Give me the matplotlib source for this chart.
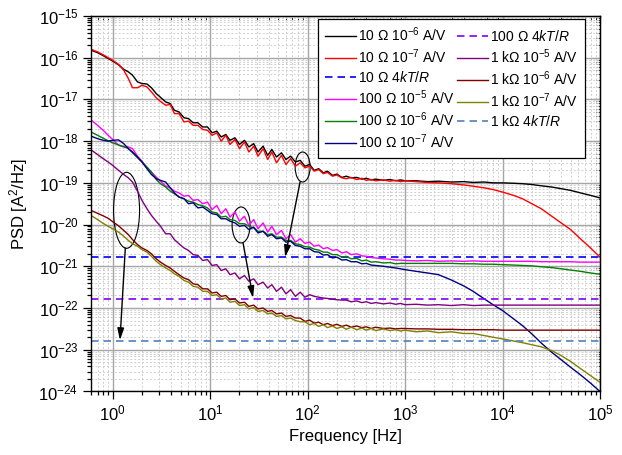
import matplotlib
matplotlib.use('Agg')
import matplotlib.pyplot as plt
import numpy as np
from matplotlib.patches import Ellipse
from matplotlib.transforms import ScaledTranslation
from matplotlib.ticker import LogLocator, NullFormatter

plt.rcParams['font.family'] = ['Liberation Sans', 'DejaVu Sans']
plt.rcParams['mathtext.fontset'] = 'custom'
plt.rcParams['mathtext.rm'] = 'Liberation Sans'
plt.rcParams['mathtext.it'] = 'Liberation Sans:italic'

# frequency grid [Hz] shared by all measured curves
freq = [0.6, 0.7, 0.8, 0.9, 1.0, 1.15, 1.3, 1.45, 1.6, 1.8, 2.0, 2.25, 2.5, 2.8,
        3.1, 3.5, 3.9, 4.3, 4.8, 5.4, 6.0, 6.7, 7.5, 8.4,
        9.4, 10.5, 11.7, 13, 14.5, 16, 18, 20, 22.5, 25,
        28, 31, 35, 39, 43, 48, 54, 60, 67, 75,
        84, 94, 105, 117, 130, 145, 160, 180, 200, 225,
        250, 280, 320, 360, 400, 450, 500, 600, 700, 800,
        900, 1000, 1300, 1700, 2200, 3000, 4000, 5000, 6500, 8000,
        1e4, 1.3e4, 1.6e4, 2e4, 2.5e4, 3.2e4, 4e4, 5e4, 6.3e4, 8e4,
        1e5]

# log10 of PSD [A^2/Hz]
r10_g6 = [-15.82, -15.88, -15.95, -16.02, -16.08, -16.17, -16.28, -16.34, -16.42, -16.58, -16.62, -16.63, -16.72, -16.86,
          -16.95, -17.06, -17.10, -17.26, -17.30, -17.44, -17.46, -17.56, -17.56, -17.66,
          -17.66, -17.80, -17.76, -17.90, -17.84, -17.98, -17.92, -18.08, -17.98, -18.14,
          -18.06, -18.26, -18.12, -18.34, -18.20, -18.38, -18.28, -18.44, -18.36, -18.50,
          -18.46, -18.60, -18.56, -18.70, -18.66, -18.76, -18.72, -18.82, -18.79, -18.87,
          -18.84, -18.88, -18.87, -18.91, -18.89, -18.93, -18.91, -18.94, -18.92, -18.95,
          -18.93, -18.95, -18.95, -18.97, -18.96, -18.98, -18.97, -18.99, -18.98, -19.00,
          -19.00, -19.01, -19.02, -19.04, -19.07, -19.10, -19.14, -19.18, -19.24, -19.30,
          -19.36]
r10_g7 = [-15.80, -15.86, -15.93, -16.00, -16.06, -16.16, -16.30, -16.50, -16.72, -16.72, -16.66, -16.70, -16.82, -16.96,
          -17.05, -17.14, -17.12, -17.34, -17.34, -17.54, -17.52, -17.62, -17.62, -17.72,
          -17.74, -17.86, -17.80, -18.00, -17.86, -18.08, -17.96, -18.18, -18.02, -18.26,
          -18.12, -18.36, -18.18, -18.44, -18.26, -18.52, -18.34, -18.56, -18.42, -18.60,
          -18.52, -18.64, -18.60, -18.72, -18.68, -18.78, -18.75, -18.84, -18.81, -18.88,
          -18.90, -18.87, -18.92, -18.89, -18.94, -18.92, -18.95, -18.93, -18.96, -18.94,
          -18.97, -18.95, -18.97, -18.99, -19.00, -19.02, -19.05, -19.08, -19.12, -19.16,
          -19.22, -19.30, -19.38, -19.50, -19.62, -19.80, -19.96, -20.12, -20.34, -20.56,
          -20.78]
r100_g5 = [-17.49, -17.62, -17.74, -17.86, -17.96, -18.10, -18.14, -18.14, -18.18, -18.36, -18.48, -18.64, -18.74, -18.86,
           -18.96, -19.08, -19.12, -19.20, -19.24, -19.32, -19.30, -19.42, -19.40, -19.50,
           -19.46, -19.64, -19.54, -19.74, -19.62, -19.82, -19.70, -19.92, -19.80, -20.02,
           -19.88, -20.10, -19.96, -20.18, -20.04, -20.24, -20.14, -20.34, -20.24, -20.42,
           -20.34, -20.45, -20.42, -20.52, -20.49, -20.58, -20.55, -20.62, -20.60, -20.68,
           -20.65, -20.72, -20.70, -20.75, -20.76, -20.79, -20.80, -20.82, -20.83, -20.85,
           -20.85, -20.86, -20.87, -20.86, -20.88, -20.87, -20.88, -20.87, -20.88, -20.88,
           -20.88, -20.88, -20.88, -20.88, -20.89, -20.89, -20.89, -20.89, -20.90, -20.90,
           -20.90]
r100_g6 = [-17.78, -17.86, -17.93, -17.99, -18.04, -18.09, -18.13, -18.18, -18.28, -18.40, -18.50, -18.62, -18.74, -18.92,
           -19.02, -19.10, -19.20, -19.26, -19.34, -19.38, -19.44, -19.46, -19.52, -19.55,
           -19.60, -19.70, -19.72, -19.82, -19.80, -19.88, -19.90, -19.98, -19.98, -20.04,
           -20.08, -20.16, -20.16, -20.24, -20.22, -20.30, -20.30, -20.38, -20.38, -20.46,
           -20.48, -20.53, -20.54, -20.59, -20.61, -20.66, -20.66, -20.72, -20.72, -20.78,
           -20.76, -20.82, -20.81, -20.87, -20.85, -20.90, -20.89, -20.92, -20.91, -20.94,
           -20.93, -20.93, -20.93, -20.93, -20.93, -20.93, -20.94, -20.94, -20.95, -20.95,
           -20.96, -20.97, -20.98, -20.99, -21.01, -21.03, -21.06, -21.09, -21.12, -21.16,
           -21.19]
r100_g7 = [-17.88, -17.94, -17.98, -18.00, -17.98, -17.97, -18.06, -18.18, -18.26, -18.38, -18.50, -18.66, -18.80, -18.90,
           -18.94, -18.98, -19.12, -19.24, -19.34, -19.38, -19.50, -19.48, -19.60, -19.58,
           -19.66, -19.74, -19.76, -19.86, -19.86, -19.92, -19.96, -20.04, -20.02, -20.12,
           -20.06, -20.20, -20.16, -20.28, -20.24, -20.34, -20.32, -20.42, -20.40, -20.50,
           -20.52, -20.58, -20.58, -20.65, -20.66, -20.73, -20.72, -20.80, -20.78, -20.85,
           -20.84, -20.89, -20.89, -20.94, -20.93, -20.97, -20.98, -21.00, -21.02, -21.04,
           -21.06, -21.08, -21.12, -21.16, -21.20, -21.33, -21.47, -21.60, -21.78, -21.92,
           -22.06, -22.26, -22.42, -22.62, -22.84, -23.06, -23.24, -23.42, -23.60, -23.80,
           -24.00]
r1k_g5 = [-18.21, -18.32, -18.42, -18.50, -18.58, -18.70, -18.80, -18.88, -18.98, -19.20, -19.42, -19.62, -19.78, -19.92,
          -20.04, -20.22, -20.22, -20.36, -20.46, -20.56, -20.62, -20.72, -20.74, -20.86,
          -20.84, -20.98, -20.96, -21.10, -21.06, -21.20, -21.16, -21.30, -21.22, -21.36,
          -21.30, -21.44, -21.38, -21.52, -21.44, -21.60, -21.50, -21.66, -21.56, -21.72,
          -21.62, -21.74, -21.68, -21.72, -21.74, -21.76, -21.77, -21.79, -21.80, -21.81,
          -21.81, -21.85, -21.83, -21.87, -21.85, -21.89, -21.87, -21.90, -21.88, -21.91,
          -21.89, -21.92, -21.91, -21.93, -21.92, -21.94, -21.92, -21.94, -21.93, -21.93,
          -21.93, -21.93, -21.93, -21.93, -21.93, -21.93, -21.93, -21.93, -21.93, -21.93,
          -21.93]
r1k_g6 = [-19.66, -19.73, -19.79, -19.85, -19.93, -20.03, -20.14, -20.24, -20.36, -20.48, -20.56, -20.62, -20.70, -20.82,
          -20.90, -20.98, -21.04, -21.12, -21.20, -21.28, -21.32, -21.42, -21.44, -21.54,
          -21.54, -21.64, -21.62, -21.72, -21.70, -21.80, -21.78, -21.88, -21.86, -21.96,
          -21.93, -22.02, -22.00, -22.08, -22.06, -22.14, -22.12, -22.20, -22.18, -22.24,
          -22.24, -22.32, -22.29, -22.36, -22.34, -22.40, -22.37, -22.42, -22.39, -22.44,
          -22.41, -22.46, -22.43, -22.47, -22.45, -22.49, -22.46, -22.49, -22.48, -22.50,
          -22.49, -22.49, -22.50, -22.50, -22.51, -22.51, -22.52, -22.52, -22.52, -22.52,
          -22.53, -22.53, -22.53, -22.53, -22.53, -22.53, -22.53, -22.53, -22.53, -22.53,
          -22.53]
r1k_g7 = [-19.78, -19.88, -19.97, -20.04, -20.10, -20.18, -20.28, -20.38, -20.46, -20.52, -20.60, -20.66, -20.76, -20.88,
          -20.96, -21.04, -21.10, -21.18, -21.24, -21.34, -21.38, -21.48, -21.50, -21.60,
          -21.60, -21.70, -21.68, -21.78, -21.76, -21.86, -21.84, -21.94, -21.92, -22.02,
          -21.99, -22.08, -22.06, -22.14, -22.12, -22.20, -22.18, -22.26, -22.24, -22.30,
          -22.33, -22.33, -22.40, -22.37, -22.44, -22.40, -22.47, -22.43, -22.49, -22.45,
          -22.51, -22.46, -22.52, -22.48, -22.53, -22.49, -22.54, -22.50, -22.54, -22.52,
          -22.55, -22.53, -22.57, -22.55, -22.59, -22.57, -22.61, -22.61, -22.66, -22.70,
          -22.74, -22.79, -22.83, -22.88, -22.93, -23.02, -23.14, -23.28, -23.45, -23.62,
          -23.78]

# thermal noise levels 4kT/R
ktr_10 = 1.66e-21
ktr_100 = 1.66e-22
ktr_1k = 1.66e-23

x_ticks = [1, 10, 100, 1e3, 1e4, 1e5]
y_ticks = [1e-24, 1e-23, 1e-22, 1e-21, 1e-20, 1e-19, 1e-18, 1e-17, 1e-16, 1e-15]

fig = plt.figure(figsize=(6.22, 4.55), dpi=100)
ax = fig.add_axes([0.1463, 0.1396, 0.8183, 0.8253])

f = np.array(freq)
edge = [freq[0], freq[-1]]
lw = 1.0
dash = (4.5, 3)
ax.plot(f, 10 ** np.array(r10_g6), color='black', lw=lw, label=r'10 $\Omega$ 10$^{-6}$ A/V')
ax.plot(f, 10 ** np.array(r10_g7), color='#ff0000', lw=lw, label=r'10 $\Omega$ 10$^{-7}$ A/V')
ax.plot(edge, [ktr_10, ktr_10], color='#0000ff', lw=1.2, dashes=dash, label=r'10 $\Omega$ 4$kT/R$')
ax.plot(f, 10 ** np.array(r100_g5), color='#ff00ff', lw=lw, label=r'100 $\Omega$ 10$^{-5}$ A/V')
ax.plot(f, 10 ** np.array(r100_g6), color='#008000', lw=lw, label=r'100 $\Omega$ 10$^{-6}$ A/V')
ax.plot(f, 10 ** np.array(r100_g7), color='#000080', lw=lw, label=r'100 $\Omega$ 10$^{-7}$ A/V')
ax.plot(edge, [ktr_100, ktr_100], color='#8000ff', lw=1.2, dashes=dash, label=r'100 $\Omega$ 4$kT/R$')
ax.plot(f, 10 ** np.array(r1k_g5), color='#800080', lw=lw, label=r'1 k$\Omega$ 10$^{-5}$ A/V')
ax.plot(f, 10 ** np.array(r1k_g6), color='#800000', lw=lw, label=r'1 k$\Omega$ 10$^{-6}$ A/V')
ax.plot(f, 10 ** np.array(r1k_g7), color='#808000', lw=lw, label=r'1 k$\Omega$ 10$^{-7}$ A/V')
ax.plot(edge, [ktr_1k, ktr_1k], color='#4f81bd', lw=1.2, dashes=dash, label=r'1 k$\Omega$ 4$kT/R$')

ax.set_xscale('log')
ax.set_yscale('log')
ax.set_xticks(x_ticks)
ax.set_yticks(y_ticks)
ax.set_xlim(0.6, 1e5)
ax.set_ylim(1e-24, 1e-15)
ax.yaxis.set_minor_locator(LogLocator(base=10, subs=np.arange(2, 10), numticks=20))
ax.xaxis.set_minor_locator(LogLocator(base=10, subs=np.arange(2, 10), numticks=20))
ax.yaxis.set_minor_formatter(NullFormatter())
ax.xaxis.set_minor_formatter(NullFormatter())

ax.grid(True, which='major', color='#a6a6a6', lw=1.0)
ax.grid(True, which='minor', color='#cfcfcf', lw=0.7, ls=(0, (2, 2)))
ax.set_axisbelow(True)
ax.tick_params(which='both', direction='out', labelsize=12, width=0.9)
ax.tick_params(which='major', length=6, pad=3)
ax.tick_params(which='minor', length=3)
for s in ax.spines.values():
    s.set_linewidth(1.0)

# inward ticks on the top and right frame
top = ax.secondary_xaxis('top')
top.set_xticks(x_ticks)
top.tick_params(which='both', direction='in', labeltop=False)
top.tick_params(which='major', length=5)
top.tick_params(which='minor', length=3)
right = ax.secondary_yaxis('right')
right.set_yticks(y_ticks)
right.yaxis.set_minor_locator(LogLocator(base=10, subs=np.arange(2, 10), numticks=20))
right.tick_params(which='both', direction='in', labelright=False)
right.tick_params(which='major', length=5)
right.tick_params(which='minor', length=3)

ax.set_xlabel('Frequency [Hz]', fontsize=12, labelpad=4)
ax.set_ylabel(r'PSD [A$^2$/Hz]', fontsize=12, labelpad=6)

leg = ax.legend(ncol=2, loc='upper right', bbox_to_anchor=(0.971, 0.993), borderaxespad=0,
                fontsize=10, frameon=True, fancybox=False, edgecolor='black', framealpha=1,
                handlelength=2.2, handletextpad=0.2, columnspacing=0.15, labelspacing=0.25,
                borderpad=0.5)
leg.get_frame().set_linewidth(0.9)


def ring(fc, pc, w, h):
    tr = fig.dpi_scale_trans + ScaledTranslation(fc, pc, ax.transData)
    e = Ellipse((0, 0), w, h, transform=tr, fill=False, ec='black', lw=0.8)
    ax.add_artist(e)


ring(1.39, 2.2e-20, 0.26, 0.76)
ring(20.8, 9.8e-21, 0.18, 0.36)
ring(89, 2.4e-19, 0.15, 0.30)

arrow = dict(arrowstyle='-|>,head_length=0.7,head_width=0.2', color='black', lw=1.0,
             shrinkA=0, shrinkB=0)
ax.annotate('', xy=(1.19, 1.7e-23), xytext=(1.35, 2.75e-21), arrowprops=arrow)
ax.annotate('', xy=(27.6, 1.74e-22), xytext=(21.8, 3.6e-21), arrowprops=arrow)
ax.annotate('', xy=(58.8, 1.66e-21), xytext=(83.8, 1.05e-19), arrowprops=arrow)

fig.savefig('out.png', dpi=100)
